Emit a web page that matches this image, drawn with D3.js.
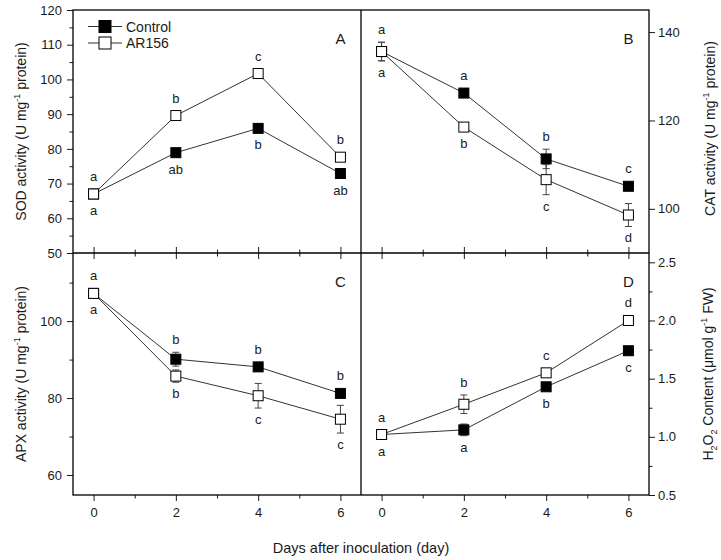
<!DOCTYPE html>
<html>
<head>
<meta charset="utf-8">
<script src="https://cdnjs.cloudflare.com/ajax/libs/d3/7.8.5/d3.min.js"></script>
<style>
  body { margin: 0; background: #fff; }
  svg { font-family: "Liberation Sans", Arial, sans-serif; }
</style>
</head>
<body>
<svg width="721" height="560"></svg>
<script>
// ---- data ----
var days = [0, 2, 4, 6];
var dayTicks = [0, 2, 4, 6];
var dayMinor = [1, 3, 5];
var seriesNames = ["Control", "AR156"];

// A: SOD
var sodControl = [67.0, 78.9, 85.9, 72.9];
var sodControlErr = [0.6, 0.7, 0.7, 0.9];
var sodAR156 = [67.0, 89.6, 101.7, 77.6];
var sodAR156Err = [0.6, 0.8, 0.8, 1.0];
var sodControlLetters = ["a", "ab", "b", "ab"];
var sodAR156Letters = ["a", "b", "c", "b"];
var sodTicks = [50, 60, 70, 80, 90, 100, 110, 120];
var sodMinor = [55, 65, 75, 85, 95, 105, 115];

// B: CAT
var catControl = [135.6, 126.2, 111.3, 105.1];
var catControlErr = [2.1, 0.5, 2.2, 0.8];
var catAR156 = [135.6, 118.5, 106.6, 98.6];
var catAR156Err = [2.1, 0.6, 3.4, 2.6];
var catControlLetters = ["a", "a", "b", "c"];
var catAR156Letters = ["a", "b", "c", "d"];
var catTicks = [100, 120, 140];
var catMinor = [];

// C: APX
var apxControl = [107.2, 90.1, 88.1, 81.2];
var apxControlErr = [0.5, 1.8, 0.8, 0.6];
var apxAR156 = [107.2, 85.7, 80.6, 74.5];
var apxAR156Err = [0.5, 1.6, 3.2, 3.6];
var apxControlLetters = ["a", "b", "b", "b"];
var apxAR156Letters = ["a", "b", "c", "c"];
var apxTicks = [60, 80, 100];
var apxMinor = [70, 90, 110];

// D: H2O2
var h2o2Control = [1.02, 1.06, 1.43, 1.74];
var h2o2ControlErr = [0.02, 0.05, 0.03, 0.03];
var h2o2AR156 = [1.02, 1.28, 1.55, 2.00];
var h2o2AR156Err = [0.02, 0.08, 0.03, 0.03];
var h2o2ControlLetters = ["a", "a", "b", "c"];
var h2o2AR156Letters = ["a", "b", "c", "d"];
var h2o2Ticks = [0.5, 1.0, 1.5, 2.0, 2.5];
var h2o2Minor = [0.75, 1.25, 1.75, 2.25];

// ---- layout ----
var svg = d3.select("svg");
var L = 73, M = 361, R = 649, T = 10, H = 253, B = 495;
var ink = "#1a1a1a";

var xLeft = d3.scaleLinear().domain([-0.5, 6.5]).range([L, M]);
var xRight = d3.scaleLinear().domain([-0.5, 6.5]).range([M, R]);

var panels = [
	{ tag: "A", x: xLeft, y: d3.scaleLinear().domain([50, 120]).range([H, T]), side: "left",
		ticks: sodTicks, minor: sodMinor, fmt: d3.format("d"),
		ctrl: sodControl, ctrlErr: sodControlErr, ar: sodAR156, arErr: sodAR156Err,
		ctrlLet: sodControlLetters, arLet: sodAR156Letters, upper: "ar" },
	{ tag: "B", x: xRight, y: d3.scaleLinear().domain([90, 145]).range([H, T]), side: "right",
		ticks: catTicks, minor: catMinor, fmt: d3.format("d"),
		ctrl: catControl, ctrlErr: catControlErr, ar: catAR156, arErr: catAR156Err,
		ctrlLet: catControlLetters, arLet: catAR156Letters, upper: "ctrl" },
	{ tag: "C", x: xLeft, y: d3.scaleLinear().domain([54.8, 117.7]).range([B, H]), side: "left",
		ticks: apxTicks, minor: apxMinor, fmt: d3.format("d"),
		ctrl: apxControl, ctrlErr: apxControlErr, ar: apxAR156, arErr: apxAR156Err,
		ctrlLet: apxControlLetters, arLet: apxAR156Letters, upper: "ctrl" },
	{ tag: "D", x: xRight, y: d3.scaleLinear().domain([0.5, 2.58]).range([B, H]), side: "right",
		ticks: h2o2Ticks, minor: h2o2Minor, fmt: d3.format(".1f"),
		ctrl: h2o2Control, ctrlErr: h2o2ControlErr, ar: h2o2AR156, arErr: h2o2AR156Err,
		ctrlLet: h2o2ControlLetters, arLet: h2o2AR156Letters, upper: "ar" }
];

function styleAxis(g) {
	g.select(".domain").remove();
	g.selectAll("line").attr("stroke", ink).attr("stroke-width", 1);
	g.selectAll("text").attr("fill", ink).style("font-size", "13px");
}

panels.forEach(function(p) {
	// y axis
	var ax = p.side == "left" ? d3.axisLeft(p.y) : d3.axisRight(p.y);
	var axX = p.side == "left" ? L : R;
	svg.append("g").attr("transform", "translate(" + axX + ",0)")
		.call(ax.tickValues(p.ticks).tickFormat(p.fmt).tickSize(6).tickPadding(p.side == "left" ? 5 : 3))
		.call(styleAxis);
	if (p.minor.length) {
		var axm = p.side == "left" ? d3.axisLeft(p.y) : d3.axisRight(p.y);
		svg.append("g").attr("transform", "translate(" + axX + ",0)")
			.call(axm.tickValues(p.minor).tickFormat("").tickSize(3.5))
			.call(styleAxis);
	}

	// x ticks on the shared middle line (pointing into each panel)
	var top = p.tag == "A" || p.tag == "B";
	svg.append("g").attr("transform", "translate(0," + H + ")")
		.call((top ? d3.axisTop(p.x) : d3.axisBottom(p.x)).tickValues(dayTicks).tickFormat("").tickSize(6))
		.call(styleAxis);
	svg.append("g").attr("transform", "translate(0," + H + ")")
		.call((top ? d3.axisTop(p.x) : d3.axisBottom(p.x)).tickValues(dayMinor).tickFormat("").tickSize(3.5))
		.call(styleAxis);
	if (!top) {
		svg.append("g").attr("transform", "translate(0," + B + ")")
			.call(d3.axisBottom(p.x).tickValues(dayTicks).tickFormat(d3.format("d")).tickSize(6).tickPadding(7))
			.call(styleAxis);
		svg.append("g").attr("transform", "translate(0," + B + ")")
			.call(d3.axisBottom(p.x).tickValues(dayMinor).tickFormat("").tickSize(3.5))
			.call(styleAxis);
	}

	// series
	var series = [
		{ vals: p.ctrl, err: p.ctrlErr, lets: p.ctrlLet, fill: "#000", key: "ctrl" },
		{ vals: p.ar, err: p.arErr, lets: p.arLet, fill: "#fff", key: "ar" }
	];
	var line = d3.line().x(function(d, i) { return p.x(days[i]); }).y(function(d) { return p.y(d); });

	series.forEach(function(s) {
		var g = svg.append("g");
		g.append("path").attr("d", line(s.vals)).attr("fill", "none")
			.attr("stroke", "#333").attr("stroke-width", 1);
		// error bars
		s.vals.forEach(function(v, i) {
			var cx = p.x(days[i]), y1 = p.y(v + s.err[i]), y2 = p.y(v - s.err[i]);
			g.append("line").attr("x1", cx).attr("x2", cx).attr("y1", y1).attr("y2", y2)
				.attr("stroke", "#444").attr("stroke-width", 1);
			[y1, y2].forEach(function(yy) {
				g.append("line").attr("x1", cx - 3.5).attr("x2", cx + 3.5).attr("y1", yy).attr("y2", yy)
					.attr("stroke", "#444").attr("stroke-width", 1);
			});
		});
		g.selectAll("rect").data(s.vals).enter().append("rect")
			.attr("x", function(d, i) { return p.x(days[i]) - 5; })
			.attr("y", function(d) { return p.y(d) - 5; })
			.attr("width", 10).attr("height", 10)
			.attr("fill", s.fill).attr("stroke", "#000").attr("stroke-width", 1);

		// significance letters
		var above = s.key == p.upper;
		g.selectAll("text.let").data(s.lets).enter().append("text")
			.attr("class", "let")
			.attr("x", function(d, i) { return p.x(days[i]); })
			.attr("y", function(d, i) {
				var v = s.vals[i], e = s.err[i];
				if (above) return Math.min(p.y(v + e), p.y(v) - 5) - 8;
				return Math.max(p.y(v - e), p.y(v) + 5) + 16;
			})
			.attr("text-anchor", "middle")
			.attr("fill", ink).style("font-size", "13px")
			.text(function(d) { return d; });
	});

	// panel tag
	svg.append("text")
		.attr("x", p.x(6))
		.attr("y", p.y.range()[1] + 34)
		.attr("text-anchor", "middle")
		.attr("fill", ink).style("font-size", "15px")
		.text(p.tag);
});

// frame
svg.append("rect").attr("x", L).attr("y", T).attr("width", R - L).attr("height", B - T)
	.attr("fill", "none").attr("stroke", "#000").attr("stroke-width", 1.3);
svg.append("line").attr("x1", M).attr("x2", M).attr("y1", T).attr("y2", B)
	.attr("stroke", "#000").attr("stroke-width", 1.3);
svg.append("line").attr("x1", L).attr("x2", R).attr("y1", H).attr("y2", H)
	.attr("stroke", "#000").attr("stroke-width", 1.3);

// legend
var leg = svg.append("g");
seriesNames.forEach(function(name, i) {
	var ly = 26.5 + i * 16.5;
	leg.append("line").attr("x1", 88).attr("x2", 122).attr("y1", ly).attr("y2", ly)
		.attr("stroke", "#333").attr("stroke-width", 1);
	leg.append("rect").attr("x", 99).attr("y", ly - 6).attr("width", 12).attr("height", 12)
		.attr("fill", i == 0 ? "#000" : "#fff").attr("stroke", "#000").attr("stroke-width", 1);
	leg.append("text").attr("x", 126).attr("y", ly + 5)
		.attr("fill", ink).style("font-size", "14px").text(name);
});

// axis titles
function yTitle(x, y, parts) {
	var t = svg.append("text")
		.attr("transform", "translate(" + x + "," + y + ") rotate(-90)")
		.attr("text-anchor", "middle")
		.attr("fill", ink).style("font-size", "14px");
	var shift = 0;
	parts.forEach(function(pt) {
		var dy = 0, size = null;
		if (pt.sup) { dy = -6 - shift; shift = -6; size = "9px"; }
		else if (pt.sub) { dy = 4 - shift; shift = 4; size = "9px"; }
		else { dy = -shift; shift = 0; }
		var ts = t.append("tspan").attr("dy", dy).text(pt.t);
		if (size) ts.style("font-size", size);
	});
}
yTitle(26, (T + H) / 2, [{ t: "SOD activity (U mg" }, { t: "-1", sup: true }, { t: "  protein)" }]);
yTitle(26, (H + B) / 2, [{ t: "APX activity (U mg" }, { t: "-1", sup: true }, { t: "  protein)" }]);
yTitle(715, (T + H) / 2 - 3, [{ t: "CAT activity (U mg" }, { t: "-1", sup: true }, { t: "  protein)" }]);
yTitle(713, (H + B) / 2, [{ t: "H" }, { t: "2", sub: true }, { t: "O" }, { t: "2", sub: true },
	{ t: " Content (μmol g" }, { t: "-1", sup: true }, { t: " FW)" }]);

svg.append("text").attr("x", (L + R) / 2).attr("y", 553)
	.attr("text-anchor", "middle").attr("fill", ink).style("font-size", "14.5px")
	.text("Days after inoculation (day)");
</script>
</body>
</html>
